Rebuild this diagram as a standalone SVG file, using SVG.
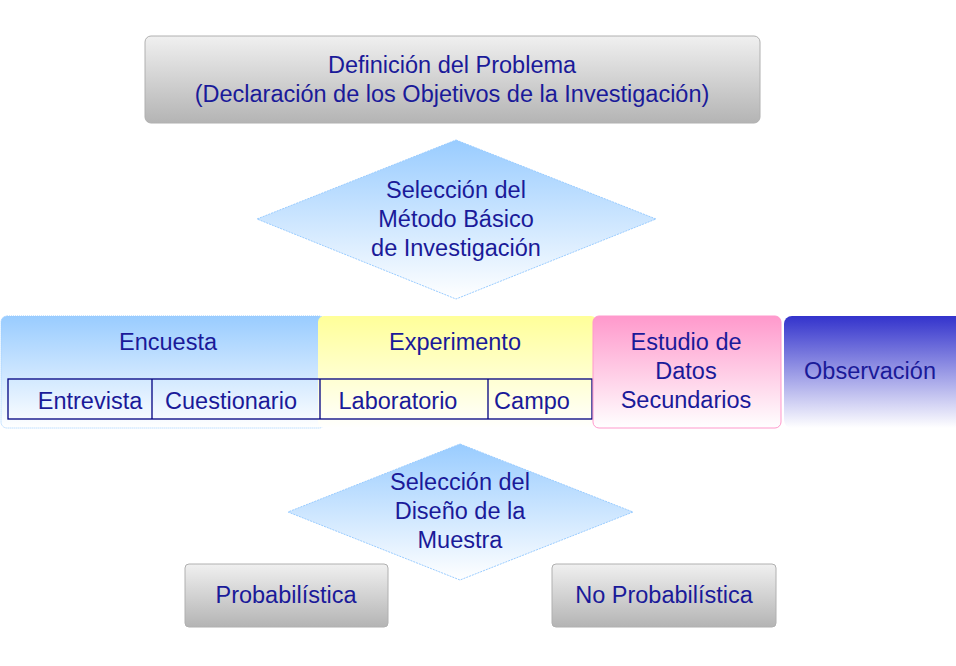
<svg xmlns="http://www.w3.org/2000/svg" width="956" height="666" viewBox="0 0 956 666">
<defs>
<linearGradient id="gray" x1="0" y1="0" x2="0" y2="1"><stop offset="0" stop-color="#f0f0f0"/><stop offset="1" stop-color="#b4b4b4"/></linearGradient>
<linearGradient id="blue" x1="0" y1="0" x2="0" y2="1"><stop offset="0" stop-color="#99ccff"/><stop offset="1" stop-color="#ffffff"/></linearGradient>
<linearGradient id="yellow" x1="0" y1="0" x2="0" y2="1"><stop offset="0" stop-color="#ffff99"/><stop offset="1" stop-color="#ffffff"/></linearGradient>
<linearGradient id="pink" x1="0" y1="0" x2="0" y2="1"><stop offset="0" stop-color="#ff99cc"/><stop offset="1" stop-color="#ffffff"/></linearGradient>
<linearGradient id="navy" x1="0" y1="0" x2="0" y2="1"><stop offset="0" stop-color="#3333cc"/><stop offset="1" stop-color="#ffffff"/></linearGradient>
</defs>
<style>
text{font-family:"Liberation Sans",Arial,sans-serif;font-size:23.5px;fill:#1a1a99;text-anchor:middle}
.g{fill:url(#gray);stroke:#b0b0b0;stroke-width:1}
.cell{fill:none;stroke:#000080;stroke-width:1.3}
</style>
<rect width="956" height="666" fill="#fff"/>
<g id="problema"><rect class="g" x="145" y="36" width="615" height="87" rx="6"/>
<text x="452" y="73">Definición del Problema</text><text x="452" y="102">(Declaración de los Objetivos de la Investigación)</text></g>
<g id="metodo"><polygon points="456,140 656,219 456,299 257,219" fill="url(#blue)" stroke="#99ccff" stroke-dasharray="2,1"/>
<text x="456" y="198">Selección del</text><text x="456" y="227">Método Básico</text><text x="456" y="256">de Investigación</text></g>
<g id="encuesta"><rect x="1" y="316" width="324" height="112" rx="6" fill="url(#blue)" stroke="#99ccff" stroke-dasharray="1,1"/>
<text x="168" y="350">Encuesta</text></g>
<g id="experimento"><rect x="318" y="316" width="279" height="112" rx="6" fill="url(#yellow)"/>
<text x="455" y="350">Experimento</text></g>
<g id="tabla"><rect class="cell" x="8" y="379" width="584" height="40"/>
<line class="cell" x1="152" y1="379" x2="152" y2="419"/><line class="cell" x1="320" y1="379" x2="320" y2="419"/><line class="cell" x1="488" y1="379" x2="488" y2="419"/>
<text x="90" y="409">Entrevista</text><text x="231" y="409">Cuestionario</text><text x="398" y="409">Laboratorio</text><text x="532" y="409">Campo</text></g>
<g id="estudio"><rect x="593" y="316" width="188" height="112" rx="6" fill="url(#pink)" stroke="#ff99cc"/>
<text x="686" y="350">Estudio de</text><text x="686" y="379">Datos</text><text x="686" y="408">Secundarios</text></g>
<g id="observacion"><rect x="784" y="316" width="180" height="112" rx="8" fill="url(#navy)"/>
<text x="870" y="379">Observación</text></g>
<g id="muestra"><polygon points="460,444 633,512 460,580 288,512" fill="url(#blue)" stroke="#99ccff" stroke-dasharray="2,1"/>
<text x="460" y="490">Selección del</text><text x="460" y="519">Diseño de la</text><text x="460" y="548">Muestra</text></g>
<g id="prob"><rect class="g" x="185" y="564" width="203" height="63" rx="4"/><text x="286" y="603">Probabilística</text></g>
<g id="noprob"><rect class="g" x="552" y="564" width="224" height="63" rx="4"/><text x="664" y="603">No Probabilística</text></g>
<g id="connectors"/>
</svg>
